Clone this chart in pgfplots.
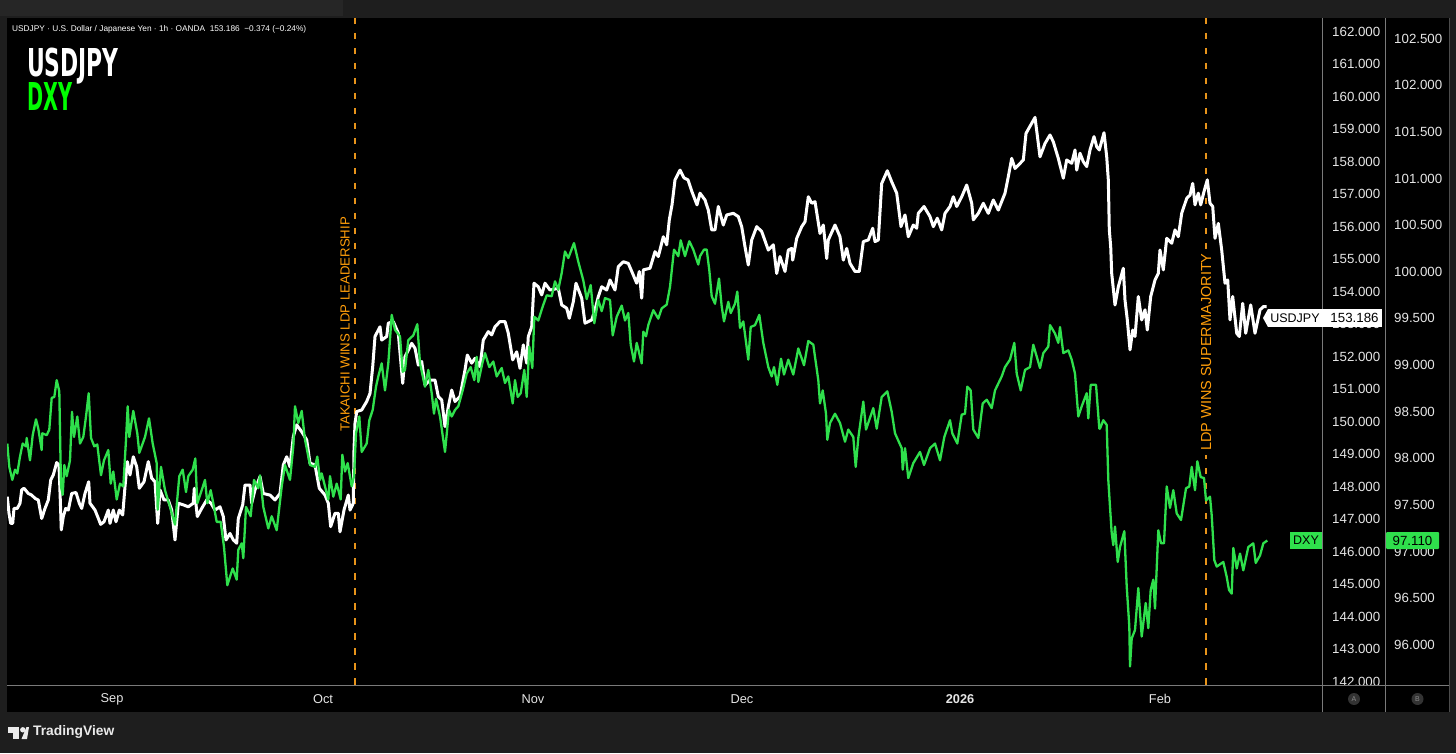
\documentclass[border=0pt]{standalone}
\usepackage{graphicx}
\usepackage{fontspec}
\setmainfont{Liberation Sans}
\newfontfamily\headfont{DejaVu Sans}
\usepackage{pgfplots}
\pgfplotsset{compat=1.18}
\definecolor{outercol}{HTML}{1E1E1E}
\definecolor{topbarcol}{HTML}{262626}
\definecolor{sepcol}{HTML}{7A7A7A}
\definecolor{tickcol}{HTML}{E6E6E6}
\definecolor{grncol}{HTML}{2FE04C}
\definecolor{orgcol}{HTML}{FF9E0A}
\definecolor{vlcol}{HTML}{E8941A}
\newcommand{\fs}[1]{\fontsize{#1pt}{#1pt}\selectfont}
\begin{document}
\begin{tikzpicture}[x=1pt,y=1pt]
% page and panel
\fill[outercol] (0,0) rectangle (1456,753);
\fill[topbarcol] (0,737) rectangle (343,753);
\fill[black] (7,41.5) rectangle (1449.5,735);

% USDJPY axis
\begin{axis}[
  at={(7pt,68pt)}, anchor=south west, scale only axis,
  width=1315pt, height=667pt,
  xmin=7, xmax=1322, ymin=141.877, ymax=162.4,
  axis line style={draw=none}, tick style={draw=none},
  major tick length=0pt,
  axis y line*=right, axis x line*=bottom,
  xtick={112,323,533,742,960,1160},
  xticklabels={Sep,Oct,Nov,Dec,\textbf{2026},Feb},
  x tick label style={text=tickcol, font=\fs{12.8}, anchor=center, yshift=-14pt, inner sep=0pt},
  ytick={142,143,144,145,146,147,148,149,150,151,152,153,154,155,156,157,158,159,160,161,162},
  y tick label style={text=tickcol, font=\fs{13.3}, anchor=west, inner sep=0pt, xshift=10pt, yshift=-0.7pt,
    /pgf/number format/fixed, /pgf/number format/fixed zerofill, /pgf/number format/precision=3,
    /pgf/number format/assume math mode=true},
  clip=true,
]
\addplot[vlcol, line width=1.6pt, dash pattern=on 6.5pt off 8.5pt] coordinates {(355,162.4)(355,141.877)};
\addplot[vlcol, line width=1.6pt, dash pattern=on 6.5pt off 8.5pt] coordinates {(1206,162.4)(1206,141.877)};
\node[rotate=90, fill=black, inner xsep=3pt, inner ysep=0pt, text=orgcol, font=\fs{13.2}] at (axis cs:345,152.97) {TAKAICHI WINS LDP LEADERSHIP};
\node[rotate=90, fill=black, inner xsep=4pt, inner ysep=1pt, text=orgcol, font=\fs{14.5}] at (axis cs:1206,152.12) {LDP WINS SUPERMAJORITY};
\addplot[white, line width=3pt, line join=round] coordinates {
(7.3,147.67)(9,147.16)(10.7,146.85)(12.7,146.85)(14,147.31)(17.3,147.31)(20,147.47)(21.7,147.88)(24,147.93)(28.3,147.77)(31.7,147.72)(35,147.62)(38.3,147.57)(41.7,147.00)(45,147.31)(48.3,147.57)(50.7,148.18)(53.3,148.34)(56.7,148.72)(59,148.65)(60.3,147.57)(61.3,146.65)(63.3,147.06)(65.7,147.31)(68.3,147.26)(71.7,147.77)(76,147.80)(79.3,147.47)(81.7,147.31)(85,147.77)(88.7,148.13)(90,147.47)(95,147.26)(100.7,146.82)(104,146.90)(108.3,147.26)(110,146.85)(113.3,147.26)(116,146.90)(119.3,147.26)(122.7,147.11)(125,147.98)(127.3,148.75)(130,148.34)(133.3,148.90)(136.7,148.59)(139.3,147.93)(144,148.13)(148.3,148.75)(151.7,148.24)(155,148.13)(157.7,146.85)(160,147.88)(164,147.57)(168.3,147.57)(171.7,147.26)(175,146.34)(178.3,147.47)(183.3,147.42)(188.3,147.36)(193.3,147.47)(194.3,147.93)(197.3,147.06)(201.7,147.31)(206.7,147.57)(211,147.47)(215,147.26)(220,147.36)(223.3,147.06)(226,146.34)(230,146.54)(233.3,146.34)(236.7,146.24)(238.3,147.00)(242.7,147.42)(245,148.03)(250,148.03)(251.7,147.47)(255,147.88)(260,148.29)(263.3,147.77)(270,147.72)(275,147.57)(280,147.77)(283.3,148.65)(286.7,148.90)(290,148.59)(293.3,149.52)(296.7,149.88)(301.7,149.67)(306.7,149.42)(310,148.70)(315,148.65)(319.3,147.93)(325,147.72)(328.3,147.47)(330.7,146.75)(335,147.16)(338.3,147.16)(340,146.59)(344,147.26)(348.3,147.72)(350,147.26)(353.3,147.47)
(354,149.11)(355,149.93)(356.7,150.29)(361.7,150.34)(366.7,150.60)(370,150.85)(372.7,151.67)(375,152.60)(380,152.90)(381.7,152.49)(386.7,152.60)(388.3,153.01)(393.3,153.06)(398.3,152.70)(402.7,151.16)(405,151.98)(411.7,152.39)(415,152.24)(418.3,151.72)(421.7,151.83)(425,151.11)(430,151.26)(435,151.26)(438.3,150.75)(441.7,150.65)(445,149.83)(448.3,150.44)(451.7,150.95)(455,150.60)(460,150.75)(465,151.57)(467.3,152.03)(471.7,151.78)(475,151.93)(480,151.67)(483.3,152.49)(488.3,152.75)(491.7,152.65)(495,152.90)(500,153.06)(505,153.06)(508.3,152.70)(512.7,151.88)(516.7,152.13)(520,151.62)(523.3,152.34)(526.7,151.78)(528.3,152.60)(531.7,152.90)(534,154.24)(538.3,154.13)(541.7,153.88)(545,154.24)(550,154.03)(558.3,154.08)(561.7,153.57)(566.7,153.47)(569.3,153.16)(573.3,153.67)(576,154.24)(581.7,153.78)(585,153.01)(591.7,153.11)(595,153.42)(598.3,153.83)(601.7,154.13)(606.7,154.03)(610,154.34)(615,154.03)(618.3,154.75)(623.3,154.90)(628.3,154.85)(633.3,154.49)(636.7,154.24)(639.3,154.60)(641.7,153.78)(643.3,154.65)(650,154.70)(655,155.21)(658.3,155.06)(663.3,155.67)(666.7,155.42)(669.3,156.19)
(672,156.65)(675,157.42)(680,157.72)(684,157.48)(688,157.42)(692,157.05)(697,156.65)
(700,157.01)(705,156.80)(708.3,156.49)(711.7,155.88)(715,155.88)(718.3,156.60)(723.3,156.03)(726.7,156.34)(733.3,156.39)(738.3,156.29)(741.7,155.98)(745,155.36)(748.3,154.80)(751.7,155.57)(756.7,155.98)(761.7,155.83)(768.3,155.26)(773.3,155.42)(776.7,154.54)(780,155.06)(785,154.60)(788.3,155.26)(791.7,155.31)(792.7,154.95)(796.7,155.62)(801.7,155.98)(805,156.13)(808.3,156.90)(811.7,156.70)(815,156.75)(820,155.77)(823.3,156.03)(826.7,155.00)(828.3,155.57)(835,156.03)(840,155.67)(843.3,154.95)(846.7,155.31)(850,154.85)(855,154.60)(859.3,154.60)(863.3,155.52)(868.3,155.57)(872.7,155.93)(875,155.52)(878.3,155.57)(881.7,157.31)(887.3,157.70)(891.7,157.36)(896.7,157.01)(901,155.98)(905,156.34)(908.3,155.67)(913.3,156.03)(916.7,155.93)(918.3,156.39)(924,156.60)(930,156.29)(933.3,155.98)(937.3,156.24)(941.7,155.88)(945,156.39)(950,156.60)(953.3,156.90)(956.7,156.60)(961.7,156.90)(966.7,157.26)(971.7,156.70)(973.3,156.19)(978.3,156.39)(983.3,156.70)(988.3,156.39)(993.3,156.80)(998.3,156.49)(1005,157.01)(1008.3,157.52)(1011.7,158.08)(1015,157.77)(1023.3,158.03)(1026,158.85)(1035,159.34)(1040,158.13)(1045,158.54)(1050,158.80)(1053.3,158.59)(1058.3,158.08)(1063.3,157.47)(1066.7,158.03)(1071.7,157.93)(1075,158.34)(1076.7,157.72)
(1080,158.24)(1083.3,157.98)(1086.7,157.83)(1090,158.34)(1094,158.75)(1096.7,158.44)(1099.3,158.34)(1104,158.87)(1106.7,158.13)(1108.3,157.42)(1109.3,155.88)(1110.7,155.36)(1111.7,154.54)(1115,153.57)(1118.3,154.13)(1123.3,154.70)(1125,153.72)(1127.3,153.11)(1130,152.19)(1132.7,152.80)(1135,152.60)(1138.3,153.83)(1141.7,153.11)(1145,153.42)(1147.3,152.80)(1150.7,153.83)(1155,154.34)(1158.3,154.54)(1160,155.26)(1163.3,154.65)(1166.7,155.62)(1171.7,155.47)(1175,155.88)(1178.3,155.67)(1181.7,156.39)(1186.7,156.85)(1190,156.95)(1192.7,157.31)(1195,156.65)(1198.3,157.01)(1200.7,156.65)(1204,157.06)(1207.3,157.42)(1210,156.70)(1212.7,156.60)(1215,155.62)(1218.3,156.08)(1221.7,155.26)(1225,154.24)(1227.7,154.34)(1230,153.11)(1232.7,153.83)(1236.7,152.70)(1239.3,152.60)(1242.7,153.62)(1245.7,152.70)(1250.7,153.57)(1255,152.70)(1260,153.42)(1263.3,153.52)(1266.7,153.52)
};
\end{axis}

% DXY axis
\begin{axis}[
  at={(7pt,68pt)}, anchor=south west, scale only axis,
  width=1378pt, height=667pt,
  xmin=7, xmax=1385, ymin=95.5602, ymax=102.7145,
  axis line style={draw=none}, tick style={draw=none},
  major tick length=0pt,
  axis y line*=right, axis x line*=bottom,
  xtick=\empty,
  ytick={96,96.5,97,97.5,98,98.5,99,99.5,100,100.5,101,101.5,102,102.5},
  y tick label style={text=tickcol, font=\fs{13.3}, anchor=west, inner sep=0pt, xshift=9pt, yshift=-0.7pt,
    /pgf/number format/fixed, /pgf/number format/fixed zerofill, /pgf/number format/precision=3,
    /pgf/number format/assume math mode=true},
  clip=true,
]
\addplot[grncol, line width=2.3pt, line join=round] coordinates {
(7.3,98.15)(9.3,97.90)(12.3,97.76)(15,97.87)(17.3,97.83)(20,98.01)(22.7,98.15)(26,98.12)(26.7,98.21)(30,97.97)(32.7,98.24)(36,98.41)(38.3,98.31)(41.7,98.08)(42.3,98.26)(46.7,98.24)(49.3,98.30)(51.7,98.64)(54.3,98.65)(56.7,98.83)(59.3,98.71)(61,97.69)(62.7,97.60)(64.3,97.92)(66.7,97.80)(70,97.97)(72,98.49)(74,98.22)(77.3,98.44)(80,98.15)(83.3,98.22)(86,98.44)(88.7,98.69)(91,98.21)(94.3,98.12)(97.3,98.14)(101,97.81)(104,97.97)(108.3,98.08)(110.7,97.72)(113.3,97.85)(116.7,97.55)(120,97.72)(123.3,97.69)(126,98.19)(127.7,98.55)(129.3,98.22)(133.3,98.50)(137.3,98.26)(139.3,98.05)(145,98.22)(149,98.42)(152.7,98.15)(156.7,97.94)(157.7,97.44)(161,97.90)(165,97.65)(170,97.47)(175,97.28)(179.3,97.80)(182.7,97.87)(186,97.63)(188.3,97.80)(192.7,97.87)(195.3,97.99)(197.3,97.51)(201.7,97.65)(205,97.76)(207.3,97.51)(210.7,97.65)(214,97.47)(216.7,97.31)(220.7,97.31)(224,97.04)(227.3,96.63)(230,96.72)(232.7,96.81)(236.7,96.69)(238.3,97.01)(241.7,97.08)(243.3,96.92)(246,97.47)(250.7,97.37)(254,97.76)(258.3,97.67)(260,97.81)(263.3,97.47)(268.3,97.24)(271.7,97.37)(276.7,97.22)(281.7,97.69)(285,97.92)(290,97.76)(293.3,98.12)(295,98.55)(298.3,98.37)(301.7,98.50)(305,98.19)(310,97.92)(315,97.90)(317.3,98.01)(320,97.76)(321.7,97.83)(328.3,97.55)(330,97.80)(333.3,97.58)(336.7,97.72)(340.7,97.55)(342.3,98.03)(345,97.85)(347.7,97.94)(351.7,97.69)(354,97.80)
(356,98.26)(359.3,98.44)(361.7,98.06)(366.7,98.15)(369.3,98.40)(372.7,98.51)(376,98.76)(378.3,98.87)(381.7,99.01)(385,98.72)(388.3,99.01)(391.7,99.53)(395,99.37)(400,99.30)(402.7,98.92)(405,98.94)(408.3,99.26)(413.3,99.31)(417.3,99.43)(420,99.01)(425,98.76)(428.3,98.94)(431.7,98.69)(434,98.47)(436,98.63)(440,98.44)(445,98.06)(449,98.51)(451.7,98.44)(455,98.51)(458.3,98.55)(462.7,98.72)(466.7,98.90)(470.7,98.97)(474.3,98.83)(476.7,99.08)(478.3,98.81)(482.3,99.01)(485,99.12)(489.3,98.97)(493.3,99.03)(496.7,98.87)(501.7,98.96)(505,98.80)(508.3,98.87)(512.7,98.58)(515,98.83)(517.7,98.65)(520.7,98.69)(524.3,98.94)(526.7,98.65)(529.3,99.19)(532.3,98.96)(534.3,99.51)(538.3,99.47)(542.7,99.62)(546.7,99.74)(551.7,99.73)(555,99.89)(558.3,99.80)(561.7,99.98)(565,100.21)(568.3,100.14)(574,100.30)(578.3,100.10)(583.3,99.90)(586.7,99.70)(590.7,99.85)(594.3,99.44)(598.3,99.69)(601.7,99.57)(605,99.71)(610,99.69)(612.7,99.31)(616.7,99.51)(621.7,99.63)(625,99.47)(628.3,99.55)(630.7,99.21)(634,99.03)(636.7,99.23)(641.7,99.01)(643.3,99.35)(646,99.30)(648.3,99.42)(653.3,99.58)(658.3,99.49)(661.7,99.60)(666.7,99.64)(670,99.83)(674,100.23)(678.3,100.16)(680.7,100.33)(685,100.16)(689.3,100.32)(693.3,100.23)(698.3,100.07)
(700,100.16)(704,100.23)(706.7,100.23)(709.3,100.01)(711.7,99.73)(715,99.65)(719,99.92)(721.7,99.62)(724,99.46)(728.3,99.67)(730.7,99.55)(735,99.65)(737.3,99.78)(740,99.39)(743.3,99.46)(748.3,99.05)(750.7,99.40)(755,99.42)(759.3,99.53)(763.3,99.23)(768.3,98.97)(771.7,98.87)(774,98.97)(777.3,98.78)(781,99.06)(784,98.89)(788.3,99.05)(793.3,98.89)(798.3,99.17)(804,98.99)(808.3,99.25)(813.3,99.21)(818.3,98.83)(820,98.58)(822.7,98.72)(826,98.47)(827.3,98.19)(830,98.37)(835,98.47)(840,98.37)(845,98.17)(848.3,98.30)(853.3,98.22)(855.7,97.90)(858.3,98.21)(863.3,98.60)(866,98.30)(873.3,98.53)(876.7,98.31)(881.7,98.65)(887.3,98.71)(891.7,98.49)(895,98.26)(901.7,98.10)(902.7,97.87)(905,98.10)(908.3,97.78)(913.3,97.94)(920,98.06)(924,97.92)(930,98.10)(935,98.15)(940,97.97)(944.3,98.22)(950,98.40)(952.3,98.26)(957.3,98.15)(961.7,98.46)(965,98.47)(967.3,98.76)(970.7,98.72)(973.3,98.30)(978.3,98.21)(982.7,98.58)(986.7,98.62)(991.7,98.53)(995,98.72)(1001.7,98.87)(1005,98.97)(1010,99.05)(1014.3,99.23)(1016.7,98.90)(1020.7,98.72)(1025,98.94)(1030,98.97)(1033.3,99.21)(1040,98.96)(1043.3,99.12)(1048.3,99.19)(1050,99.42)(1055,99.33)(1058.3,99.23)(1060,99.40)(1063.3,99.12)(1068.3,99.15)(1071.7,99.05)(1075,98.90)(1078.3,98.44)(1081.7,98.55)(1086.7,98.69)(1088.3,98.42)(1090.7,98.78)(1096,98.78)(1099.3,98.31)
(1100,98.31)(1103.3,98.40)(1106.7,98.35)(1108.3,97.76)(1110,97.47)(1111.7,97.19)(1113.3,97.06)(1115,97.26)(1117.7,96.88)(1120,97.04)(1124.3,97.21)(1126.7,96.62)(1129.3,96.19)(1130,95.76)(1131.7,96.06)(1135,96.15)(1138.3,96.60)(1141.7,96.08)(1145.7,96.44)(1148.3,96.17)(1150.7,96.58)(1153.3,96.69)(1155,96.38)(1158.3,97.22)(1161,97.08)(1164,97.08)(1166.7,97.69)(1170,97.46)(1173.3,97.65)(1176.7,97.40)(1181,97.33)(1186,97.67)(1189.3,97.69)(1191.7,97.90)(1195,97.65)(1197.3,97.96)(1200.7,97.79)(1204,97.78)(1206,97.54)(1210,97.58)(1211.7,97.38)(1214.3,96.90)(1216.7,96.83)(1223.3,96.88)(1226.7,96.72)(1229,96.58)(1231.7,96.54)(1233.3,97.03)(1236.7,96.81)(1240,96.97)(1243.3,96.79)(1248.3,97.04)(1253.3,97.08)(1255.7,96.87)(1260,96.95)(1263.3,97.08)(1267.3,97.11)
};
\end{axis}

% frame lines and price scale furniture
\fill[black] (1323,42) rectangle (1448,67.5);
\draw[sepcol, line width=1pt] (7,68) -- (1449.5,68);
\draw[sepcol, line width=1pt] (1322,41.5) -- (1322,735);
\draw[sepcol, line width=1pt] (1385.5,41.5) -- (1385.5,735);
\draw[black!70!white, line width=1pt] (1449.5,41.5) -- (1449.5,735);
\fill[black!80!white] (1354,54) circle (6);
\node[text=black!45!white, font=\fs{7}] at (1354,54) {A};
\fill[black!80!white] (1417.5,54) circle (6);
\node[text=black!45!white, font=\fs{7}] at (1417.5,54) {B};

% price tags
\fill[white] (1268,426) rectangle (1382,444);
\fill[white] (1268,426) -- (1263,435) -- (1268,444) -- cycle;
\node[text=black, font=\fs{12.5}, anchor=center] at (1295,435) {USDJPY};
\node[text=black, font=\fs{13.3}, anchor=center] at (1354.5,435) {153.186};
\fill[grncol] (1290,204) rectangle (1322,221);
\node[text=black, font=\fs{12.5}, anchor=center] at (1306,212.5) {DXY};
\fill[grncol, rounded corners=1pt] (1386,204) rectangle (1439,221);
\node[text=black, font=\fs{13.3}, anchor=center] at (1412.5,212.5) {97.110};

% headers
\node[anchor=west, inner sep=0pt, text=white, font=\fs{8.3}] at (12,724) {USDJPY · U.S. Dollar / Japanese Yen · 1h · OANDA\ \ 153.186\ \ −0.374 (−0.24\%)};
\node[anchor=base west, inner sep=0pt, xscale=0.57, text=white, font=\headfont\fs{38.4}\bfseries] at (27,676) {USDJPY};
\node[anchor=base west, inner sep=0pt, xscale=0.505, text=green, font=\headfont\fs{38.4}\bfseries] at (27,642) {DXY};

% TradingView mark
\fill[white!92!black] (8,26) rectangle (19,20.5);
\fill[white!92!black] (13,20.5) rectangle (19,14);
\fill[white!92!black] (22.8,23.2) circle (2.7);
\fill[white!92!black] (21.5,14) -- (26.5,26) -- (29,26) -- (27,14) -- cycle;
\node[anchor=west, inner sep=0pt, text=white!92!black, font=\fs{13.8}\bfseries] at (33,21) {TradingView};
\end{tikzpicture}
\end{document}
